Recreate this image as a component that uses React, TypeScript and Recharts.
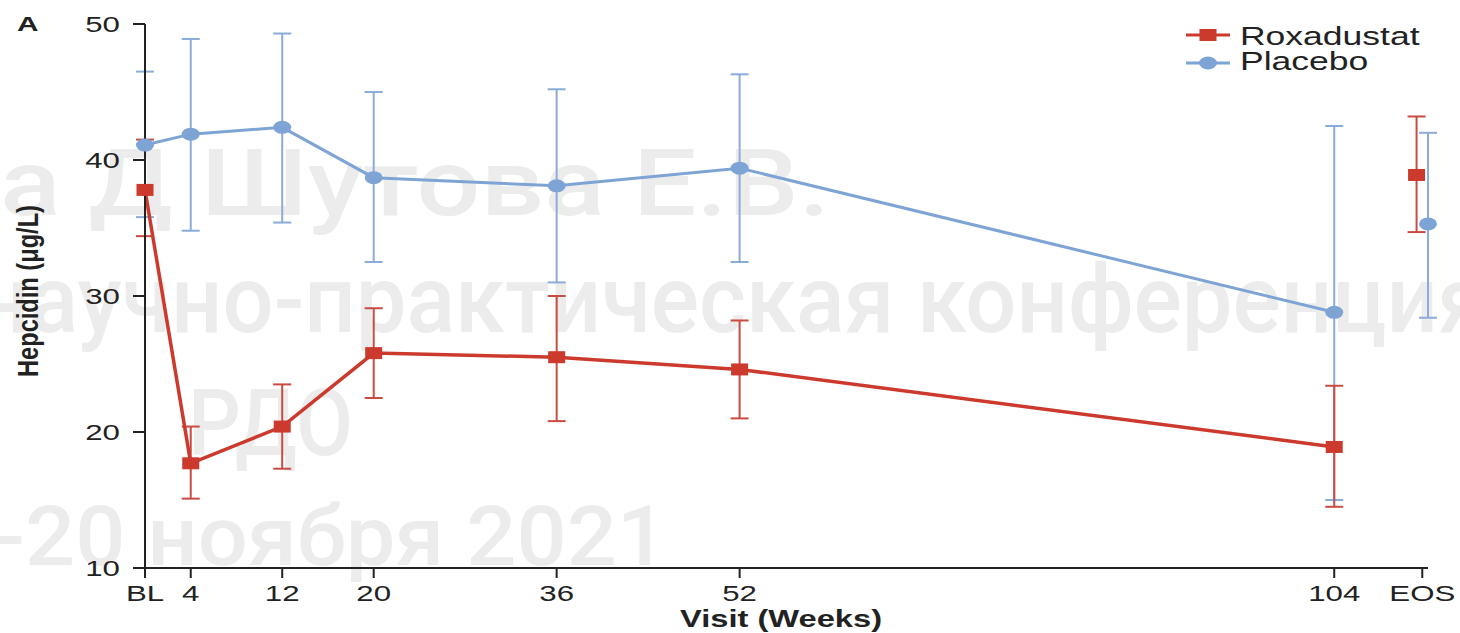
import React from 'react';
import { ComposedChart, Line, XAxis, YAxis, ErrorBar } from 'recharts';

const weeks = [0, 4, 12, 20, 36, 52, 104];
const tickWeeks = [0, 4, 12, 20, 36, 52, 104, 111.7];
const tickLabels = ['BL', '4', '12', '20', '36', '52', '104', 'EOS'];
const yTicks = [10, 20, 30, 40, 50];

const roxMean = [37.8, 17.7, 20.4, 25.8, 25.5, 24.6, 18.9];
const roxLow = [34.4, 15.1, 17.3, 22.5, 20.8, 21.0, 14.5];
const roxHigh = [41.5, 20.4, 23.5, 29.1, 30.0, 28.2, 23.4];

const plcMean = [41.1, 41.9, 42.4, 38.7, 38.1, 39.4, 28.8];
const plcLow = [35.8, 34.8, 35.4, 32.5, 31.0, 32.5, 15.0];
const plcHigh = [46.5, 48.9, 49.3, 45.0, 45.2, 46.3, 42.5];

// end of study, drawn apart from the lines
const eosWeeks = [111.2, 112.2];
const eosMean = [38.9, 35.3];
const eosLow = [34.7, 28.4];
const eosHigh = [43.2, 42.0];

const RED = '#cc3a2e';
const RED_ERR = '#c94b42';
const BLUE = '#7ea4d6';
const BLUE_ERR = '#8aacd8';
const INK = '#222';
const FONT = '"Liberation Sans", Arial, sans-serif';
const SX = 1.42; // the source picture is stretched sideways

const mainData = weeks.map((w, i) => ({
  week: w,
  rox: roxMean[i],
  roxErr: [roxMean[i] - roxLow[i], roxHigh[i] - roxMean[i]],
  plc: plcMean[i],
  plcErr: [plcMean[i] - plcLow[i], plcHigh[i] - plcMean[i]],
}));

const eosRoxData = [
  { week: eosWeeks[0], rox: eosMean[0], roxErr: [eosMean[0] - eosLow[0], eosHigh[0] - eosMean[0]] },
];
const eosPlcData = [
  { week: eosWeeks[1], plc: eosMean[1], plcErr: [eosMean[1] - eosLow[1], eosHigh[1] - eosMean[1]] },
];

const squareDot = (props: any) => {
  const { cx, cy, index } = props;
  if (cx == null || cy == null) return null;
  return <rect key={`sq-${index}`} x={cx - 8.5} y={cy - 6} width={17} height={12} fill={RED} />;
};

const roundDot = (props: any) => {
  const { cx, cy, index } = props;
  if (cx == null || cy == null) return null;
  return <ellipse key={`el-${index}`} cx={cx} cy={cy} rx={9} ry={6.5} fill={BLUE} />;
};

const XTick = (props: any) => {
  const { x, y, payload } = props;
  const i = tickWeeks.indexOf(payload.value);
  return (
    <text
      transform={`translate(${x},${y}) scale(${SX},1)`}
      textAnchor="middle"
      dy="0.71em"
      fontSize={22}
      fontFamily={FONT}
      fill={INK}
    >
      {tickLabels[i]}
    </text>
  );
};

const YTick = (props: any) => {
  const { x, y, payload } = props;
  return (
    <text
      transform={`translate(${x},${y}) scale(${SX},1)`}
      textAnchor="end"
      dy="0.36em"
      fontSize={22}
      fontFamily={FONT}
      fill={INK}
    >
      {payload.value}
    </text>
  );
};

const Backdrop = () => (
  <svg width={1460} height={633} style={{ position: 'absolute', left: 0, top: 0 }}>
    <g fill="#ececec" fontFamily='Roboto, "Liberation Sans Narrow", sans-serif' fontWeight={500}>
      <text x={0} y={215} fontSize={92} textLength={830} lengthAdjust="spacingAndGlyphs">
        а Д Шутова Е.В.
      </text>
      <text x={-22} y={332} fontSize={95} textLength={1510} lengthAdjust="spacingAndGlyphs">
        научно-практическая конференция
      </text>
      <text x={188} y={455} fontSize={92} textLength={165} lengthAdjust="spacingAndGlyphs">
        РДО
      </text>
      <text x={-5} y={565} fontSize={84} textLength={672} lengthAdjust="spacingAndGlyphs">
        -20 ноября 2021
      </text>
    </g>
    <text transform={`translate(17,31) scale(${SX},1)`} fontSize={21} fontWeight="bold" fontFamily={FONT} fill={INK}>
      A
    </text>
    <text
      transform={`translate(781,627) scale(${SX},1)`}
      textAnchor="middle"
      fontSize={23}
      fontWeight="bold"
      fontFamily={FONT}
      fill={INK}
    >
      Visit (Weeks)
    </text>
    <text
      transform={`translate(28,291) scale(${SX},1) rotate(-90)`}
      textAnchor="middle"
      dy="0.35em"
      fontSize={21}
      fontWeight="bold"
      fontFamily={FONT}
      fill={INK}
      textLength={172}
      lengthAdjust="spacingAndGlyphs"
    >
      Hepcidin (μg/L)
    </text>
    {/* legend */}
    <g transform="translate(1180,14)">
      <line x1={6} x2={50} y1={21} y2={21} stroke={RED} strokeWidth={3} />
      <rect x={19.5} y={15} width={17} height={12} fill={RED} />
      <text transform={`translate(60,31) scale(${SX},1)`} fontSize={25} fontFamily={FONT} fill={INK}>
        Roxadustat
      </text>
      <line x1={6} x2={50} y1={49} y2={49} stroke={BLUE} strokeWidth={3} />
      <ellipse cx={28} cy={49} rx={9} ry={6.5} fill={BLUE} />
      <text transform={`translate(60,56) scale(${SX},1)`} fontSize={25} fontFamily={FONT} fill={INK}>
        Placebo
      </text>
    </g>
  </svg>
);

export default function App() {
  return (
    <div style={{ position: 'relative', width: 1460, height: 633, background: '#fff' }}>
      <style>{`body{margin:0;}`}</style>
      <Backdrop />
      <div style={{ position: 'absolute', left: 0, top: 0 }}>
        <ComposedChart width={1460} height={633} data={mainData} margin={{ top: 24, right: 32, bottom: 0, left: 0 }}>
          <XAxis
            type="number"
            dataKey="week"
            domain={[0, 'dataMax']}
            ticks={tickWeeks}
            tick={<XTick />}
            tickSize={10}
            tickMargin={7}
            height={65}
            axisLine={{ stroke: INK, strokeWidth: 2 }}
            tickLine={{ stroke: INK, strokeWidth: 2 }}
          />
          <YAxis
            type="number"
            domain={[10, 50]}
            ticks={yTicks}
            tick={<YTick />}
            tickSize={12}
            tickMargin={13}
            width={145}
            axisLine={{ stroke: INK, strokeWidth: 2 }}
            tickLine={{ stroke: INK, strokeWidth: 2 }}
          />
          <Line
            dataKey="plc"
            name="Placebo"
            stroke={BLUE}
            strokeWidth={3}
            dot={roundDot}
            activeDot={false}
            isAnimationActive={false}
          >
            <ErrorBar dataKey="plcErr" direction="y" width={9} stroke={BLUE_ERR} strokeWidth={2} />
          </Line>
          <Line
            data={eosPlcData}
            dataKey="plc"
            name="Placebo EOS"
            stroke="none"
            dot={roundDot}
            activeDot={false}
            isAnimationActive={false}
          >
            <ErrorBar dataKey="plcErr" direction="y" width={9} stroke={BLUE_ERR} strokeWidth={2} />
          </Line>
          <Line
            dataKey="rox"
            name="Roxadustat"
            stroke={RED}
            strokeWidth={3.5}
            dot={squareDot}
            activeDot={false}
            isAnimationActive={false}
          >
            <ErrorBar dataKey="roxErr" direction="y" width={9} stroke={RED_ERR} strokeWidth={2} />
          </Line>
          <Line
            data={eosRoxData}
            dataKey="rox"
            name="Roxadustat EOS"
            stroke="none"
            dot={squareDot}
            activeDot={false}
            isAnimationActive={false}
          >
            <ErrorBar dataKey="roxErr" direction="y" width={9} stroke={RED_ERR} strokeWidth={2} />
          </Line>
        </ComposedChart>
      </div>
    </div>
  );
}
